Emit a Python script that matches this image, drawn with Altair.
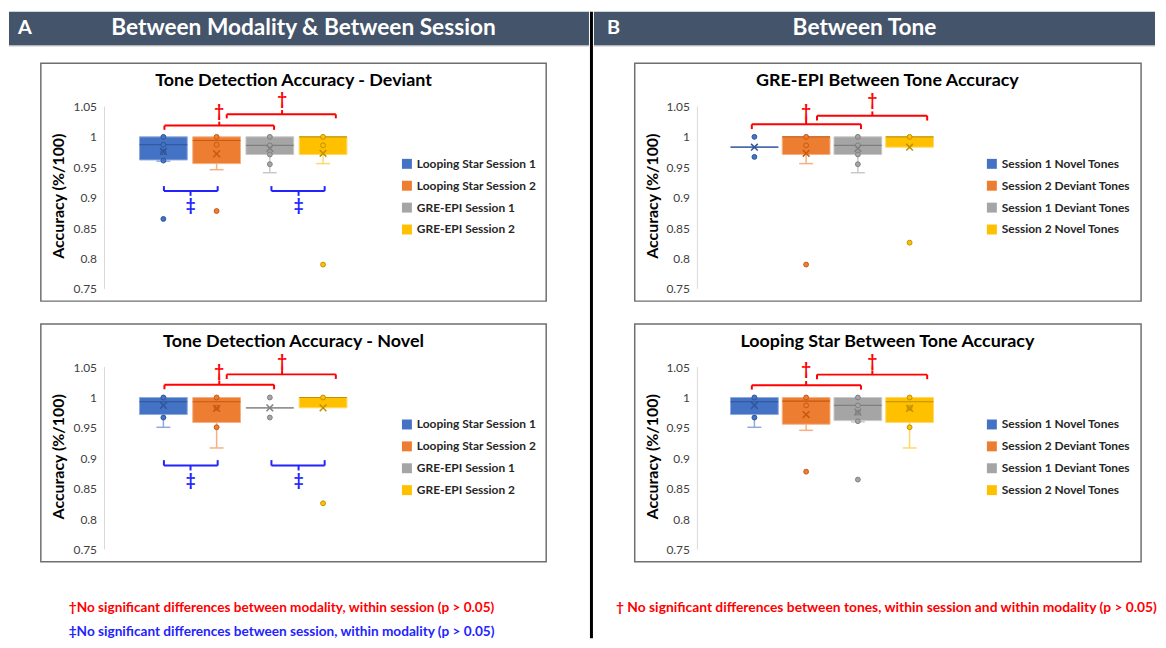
import altair as alt
import pandas as pd

FONT = "Lato"

# ---------------- data ----------------
# eight accuracy distributions: Looping Star (LS) / GRE-EPI, session 1/2, deviant/novel tones
DIST_NAMES = ["LS_S1_DEV", "LS_S2_DEV", "GRE_S1_DEV", "GRE_S2_DEV",
              "LS_S1_NOV", "LS_S2_NOV", "GRE_S1_NOV", "GRE_S2_NOV"]
Q1 = [0.962, 0.956, 0.971, 0.971, 0.972, 0.959, 0.983, 0.983]
Q3 = [1.0, 1.0, 1.0, 1.0, 1.0, 1.0, 0.983, 1.0]
MEDIAN = [0.987, 0.994, 0.986, 1.0, 0.993, 0.993, 0.983, 1.0]
MEAN = [0.976, 0.972, 0.981, 0.973, 0.987, 0.982, 0.983, 0.983]
WHISKER_LO = [0.960, 0.946, 0.941, 0.956, 0.951, 0.917, None, None]
POINTS = [
    [1.0, 0.987, 0.975, 0.961, 0.865],
    [1.0, 0.987, 0.878],
    [1.0, 0.986, 0.971, 0.955],
    [1.0, 0.986, 0.790],
    [1.0, 0.967],
    [1.0, 0.983, 0.951],
    [1.0, 0.967],
    [1.0, 0.826],
]

LEGEND_A = ["Looping Star Session 1", "Looping Star Session 2",
            "GRE-EPI Session 1", "GRE-EPI Session 2"]
LEGEND_B = ["Session 1 Novel Tones", "Session 2 Deviant Tones",
            "Session 1 Deviant Tones", "Session 2 Novel Tones"]

PANEL_TITLES = {
    "A1": "Tone Detection Accuracy - Deviant",
    "A2": "Tone Detection Accuracy - Novel",
    "B1": "GRE-EPI Between Tone Accuracy",
    "B2": "Looping Star Between Tone Accuracy",
}
PANEL_DISTS = {"A1": [0, 1, 2, 3], "A2": [4, 5, 6, 7], "B1": [6, 3, 2, 7], "B2": [4, 1, 0, 5]}

# brackets: (x start, x end, line y, end-tick dy, x mid, mid-tick dy, symbol y, symbol)
BRACKETS = {
    "A1": [(1.02, 3.08, 1.0185, -0.007, 2.05, 0.0065, 1.041, "†"),
           (2.19, 4.24, 1.037, -0.0066, 3.23, 0.007, 1.060, "†"),
           (1.01, 2.02, 0.911, 0.008, 1.51, -0.008, 0.8865, "‡"),
           (3.03, 4.03, 0.911, 0.008, 3.54, -0.008, 0.8865, "‡")],
    "A2": [(1.02, 3.08, 1.021, -0.0075, 2.05, 0.007, 1.042, "†"),
           (2.19, 4.24, 1.038, -0.0075, 3.23, 0.007, 1.058, "†"),
           (1.01, 2.02, 0.888, 0.009, 1.51, -0.008, 0.863, "‡"),
           (3.03, 4.03, 0.888, 0.009, 3.54, -0.008, 0.863, "‡")],
    "B1": [(0.95, 3.06, 1.0207, -0.008, 2.0, 0.007, 1.041, "†"),
           (2.21, 4.34, 1.0348, -0.008, 3.28, 0.007, 1.0593, "†")],
    "B2": [(0.95, 3.06, 1.020, -0.007, 2.0, 0.007, 1.045, "†"),
           (2.21, 4.34, 1.0376, -0.0075, 3.28, 0.007, 1.0590, "†")],
}

HEADER_TEXT = {"A": ("A", "Between Modality & Between Session"), "B": ("B", "Between Tone")}
FOOTER_TEXT = {
    "A": [("†No significant differences between modality, within session (p > 0.05)", "dagger"),
          ("‡No significant differences between session, within modality (p > 0.05)", "ddagger")],
    "B": [("† No significant differences between tones, within session and within modality (p > 0.05)", "dagger")],
}
Y_TICKS = [0.75, 0.8, 0.85, 0.9, 0.95, 1.0, 1.05]

# ---------------- styles / layout ----------------
SERIES_FILL = ["#4472C4", "#ED7D31", "#A5A5A5", "#FFC000"]
SERIES_LIGHT = ["#8FAADC", "#F4B183", "#C9C9C9", "#FFD966"]
SERIES_DARK = ["#2F5597", "#C55A11", "#7F7F7F", "#BF9000"]
SIG_COLOR = {"dagger": "#FF0000", "ddagger": "#2323FF"}
SYM_KIND = {"†": "dagger", "‡": "ddagger"}
HEADER_COLOR = "#44546A"

HEADER_H = 35
CELL_H = 262
FOOTER_H = 71
TOTAL_H = HEADER_H + 2 * CELL_H + FOOTER_H
COL = {
    "A": dict(W=583, frame=(32, 17, 540, 256), axis_x=96, ytitle_x=50, title_x=286,
              legend_x=394, box0=155.2, step=53.5, letter_x=9, head_x=296, foot_x=274,
              foot_size=13.7),
    "B": dict(W=564, frame=(41, 17, 550, 256), axis_x=104, ytitle_x=59, title_x=295,
              legend_x=394, box0=161.3, step=52.0, letter_x=13, head_x=272, foot_x=294,
              foot_size=13.9),
}
PX_105, PX_075 = 60.3, 243.7
K = (PX_075 - PX_105) / 0.30


def v_at(px):
    return 1.05 - (px - PX_105) / K


YDOM = [v_at(CELL_H), v_at(0)]
BOX_HALF_PX = 24.0
CAP_HALF_PX = 7.0
ONE = pd.DataFrame({"k": [0]})


def panel(key):
    col = key[0]
    L = COL[col]
    labels = LEGEND_A if col == "A" else LEGEND_B
    step = L["step"]
    xdom = [1 + (0 - L["box0"]) / step, 1 + (L["W"] - L["box0"]) / step]
    xs = alt.Scale(domain=xdom, nice=False, zero=False)
    ys = alt.Scale(domain=YDOM, nice=False, zero=False)
    yaxis = alt.Axis(values=Y_TICKS, format="~g", orient="left", offset=-L["axis_x"],
                     domain=False, ticks=False, grid=False, labelPadding=8,
                     labelFontSize=12, labelColor="#404040", labelFont=FONT,
                     title="Accuracy (%/100)", titleFont=FONT, titleFontSize=16,
                     titleFontWeight="bold", titleColor="#000000",
                     titleX=L["ytitle_x"] - L["axis_x"], titleY=150, titleAngle=270,
                     titleAlign="center", titleBaseline="middle")
    hw = BOX_HALF_PX / step
    cw = CAP_HALF_PX / step

    rows, wrows, prows = [], [], []
    for i, d in enumerate(PANEL_DISTS[key]):
        pos = i + 1
        r = dict(series=labels[i], pos=pos, lo=pos - hw, hi=pos + hw, q1=Q1[d], q3=Q3[d],
                 med=MEDIAN[d], mean=MEAN[d], light=SERIES_LIGHT[i], dark=SERIES_DARK[i])
        rows.append(r)
        if WHISKER_LO[d] is not None:
            wrows.append(dict(pos=pos, clo=pos - cw, chi=pos + cw, q1=Q1[d],
                              wlo=WHISKER_LO[d], light=SERIES_LIGHT[i]))
        for v in POINTS[d]:
            prows.append(dict(pos=pos, val=v, fill=SERIES_FILL[i], dark=SERIES_DARK[i]))
    boxes = pd.DataFrame(rows)
    whisk = pd.DataFrame(wrows)
    pts = pd.DataFrame(prows)

    segs, syms = [], []
    for (x1, x2, y, et, xm, mt, ys_, s) in BRACKETS[key]:
        c = SIG_COLOR[SYM_KIND[s]]
        segs += [dict(x=x1, x2=x2, y=y, y2=y, c=c), dict(x=x1, x2=x1, y=y, y2=y + et, c=c),
                 dict(x=x2, x2=x2, y=y, y2=y + et, c=c), dict(x=xm, x2=xm, y=y, y2=y + mt, c=c)]
        syms.append(dict(x=xm, y=ys_, t=s, c=c))
    segs = pd.DataFrame(segs)
    syms = pd.DataFrame(syms)

    fx0, fy0, fx1, fy1 = L["frame"]
    frame = alt.Chart(ONE).mark_rect(fill="#ffffff", fillOpacity=0, stroke="#6F6F6F",
                                     strokeWidth=1.5).encode(
        x=alt.value(fx0), x2=alt.value(fx1), y=alt.value(fy0), y2=alt.value(fy1))
    axis_line = alt.Chart(ONE).mark_rule(color="#D9D9D9", strokeWidth=1).encode(
        x=alt.value(L["axis_x"]), y=alt.Y(datum=0.75, scale=ys, axis=yaxis), y2=alt.Y2(datum=1.05))
    title = alt.Chart(pd.DataFrame({"t": [PANEL_TITLES[key]]})).mark_text(
        font=FONT, fontSize=18, fontWeight="bold", color="#000000").encode(
        x=alt.value(L["title_x"]), y=alt.value(35), text="t:N")
    box = alt.Chart(boxes).mark_rect(strokeWidth=1, opacity=1).encode(
        x=alt.X("lo:Q", scale=xs, axis=None), x2="hi:Q",
        y=alt.Y("q1:Q", scale=ys, axis=yaxis), y2="q3:Q",
        color=alt.Color("series:N", scale=alt.Scale(domain=labels, range=SERIES_FILL),
                        legend=alt.Legend(orient="none", legendX=L["legend_x"], legendY=112,
                                          title=None, symbolType="square", symbolSize=100,
                                          symbolStrokeWidth=0, labelFont=FONT, labelFontSize=12,
                                          labelFontWeight="bold", labelColor="#262626",
                                          rowPadding=10, labelOffset=4, padding=0)),
        stroke=alt.Stroke("light:N", scale=None))
    layers = [frame, axis_line, title, box]
    if len(whisk):
        layers.append(alt.Chart(whisk).mark_rule(strokeWidth=1.5).encode(
            x=alt.X("pos:Q", scale=xs, axis=None), y=alt.Y("q1:Q", scale=ys, axis=yaxis),
            y2="wlo:Q", stroke=alt.Stroke("light:N", scale=None)))
        layers.append(alt.Chart(whisk).mark_rule(strokeWidth=1.5).encode(
            x=alt.X("clo:Q", scale=xs, axis=None), x2="chi:Q",
            y=alt.Y("wlo:Q", scale=ys, axis=yaxis), stroke=alt.Stroke("light:N", scale=None)))
    layers.append(alt.Chart(boxes).mark_rule(strokeWidth=1.2).encode(
        x=alt.X("lo:Q", scale=xs, axis=None), x2="hi:Q",
        y=alt.Y("med:Q", scale=ys, axis=yaxis), stroke=alt.Stroke("dark:N", scale=None)))
    layers.append(alt.Chart(pts).mark_point(shape="circle", filled=True, size=24, strokeWidth=1,
                                            opacity=1).encode(
        x=alt.X("pos:Q", scale=xs, axis=None), y=alt.Y("val:Q", scale=ys, axis=yaxis),
        fill=alt.Fill("fill:N", scale=None), stroke=alt.Stroke("dark:N", scale=None)))
    layers.append(alt.Chart(boxes).mark_point(shape="M-1,-1L1,1M1,-1L-1,1", filled=False,
                                              size=45, strokeWidth=1.5, opacity=1).encode(
        x=alt.X("pos:Q", scale=xs, axis=None), y=alt.Y("mean:Q", scale=ys, axis=yaxis),
        stroke=alt.Stroke("dark:N", scale=None)))
    layers.append(alt.Chart(segs).mark_rule(strokeWidth=2).encode(
        x=alt.X("x:Q", scale=xs, axis=None), x2="x2:Q",
        y=alt.Y("y:Q", scale=ys, axis=yaxis), y2="y2:Q", stroke=alt.Stroke("c:N", scale=None)))
    layers.append(alt.Chart(syms).mark_text(font=FONT, fontSize=17, fontWeight="bold",
                                            baseline="middle").encode(
        x=alt.X("x:Q", scale=xs, axis=None), y=alt.Y("y:Q", scale=ys, axis=yaxis),
        text="t:N", fill=alt.Fill("c:N", scale=None)))
    return alt.layer(*layers).properties(width=L["W"], height=CELL_H)


def header(col):
    L = COL[col]
    letter, text = HEADER_TEXT[col]
    bar = alt.Chart(ONE).mark_rect(color=HEADER_COLOR).encode(
        x=alt.value(0), x2=alt.value(L["W"]), y=alt.value(0), y2=alt.value(HEADER_H - 1))
    shade = alt.Chart(ONE).mark_rule(color="#BFBFBF", strokeWidth=1).encode(
        x=alt.value(0), x2=alt.value(L["W"]), y=alt.value(HEADER_H - 0.5))
    t1 = alt.Chart(pd.DataFrame({"t": [letter]})).mark_text(
        font=FONT, fontSize=20, fontWeight="bold", color="white", align="left").encode(
        x=alt.value(L["letter_x"]), y=alt.value(16), text="t:N")
    t2 = alt.Chart(pd.DataFrame({"t": [text]})).mark_text(
        font=FONT, fontSize=22.8, fontWeight="bold", color="white", align="center").encode(
        x=alt.value(L["head_x"]), y=alt.value(16), text="t:N")
    return alt.layer(bar, shade, t1, t2).properties(width=L["W"], height=HEADER_H)


def footer(col):
    L = COL[col]
    layers = []
    for j, (txt, kind) in enumerate(FOOTER_TEXT[col]):
        layers.append(alt.Chart(pd.DataFrame({"t": [txt]})).mark_text(
            font=FONT, fontSize=L["foot_size"], fontWeight="bold", color=SIG_COLOR[kind]).encode(
            x=alt.value(L["foot_x"]), y=alt.value(40 + 25 * j), text="t:N"))
    return alt.layer(*layers).properties(width=L["W"], height=FOOTER_H)


def column(col):
    return alt.vconcat(header(col), panel(col + "1"), panel(col + "2"), footer(col),
                       spacing=0, bounds="flush").resolve_scale(color="independent")


divider = alt.Chart(ONE).mark_rule(color="black", strokeWidth=3).encode(
    x=alt.value(1.5), y=alt.value(0), y2=alt.value(TOTAL_H)).properties(width=3, height=TOTAL_H)

chart = alt.hconcat(column("A"), divider, column("B"), spacing=0).resolve_scale(
    color="independent").configure_view(stroke=None).properties(padding=0)

chart.save("out.html", embed_options={"renderer": "svg", "actions": False})
